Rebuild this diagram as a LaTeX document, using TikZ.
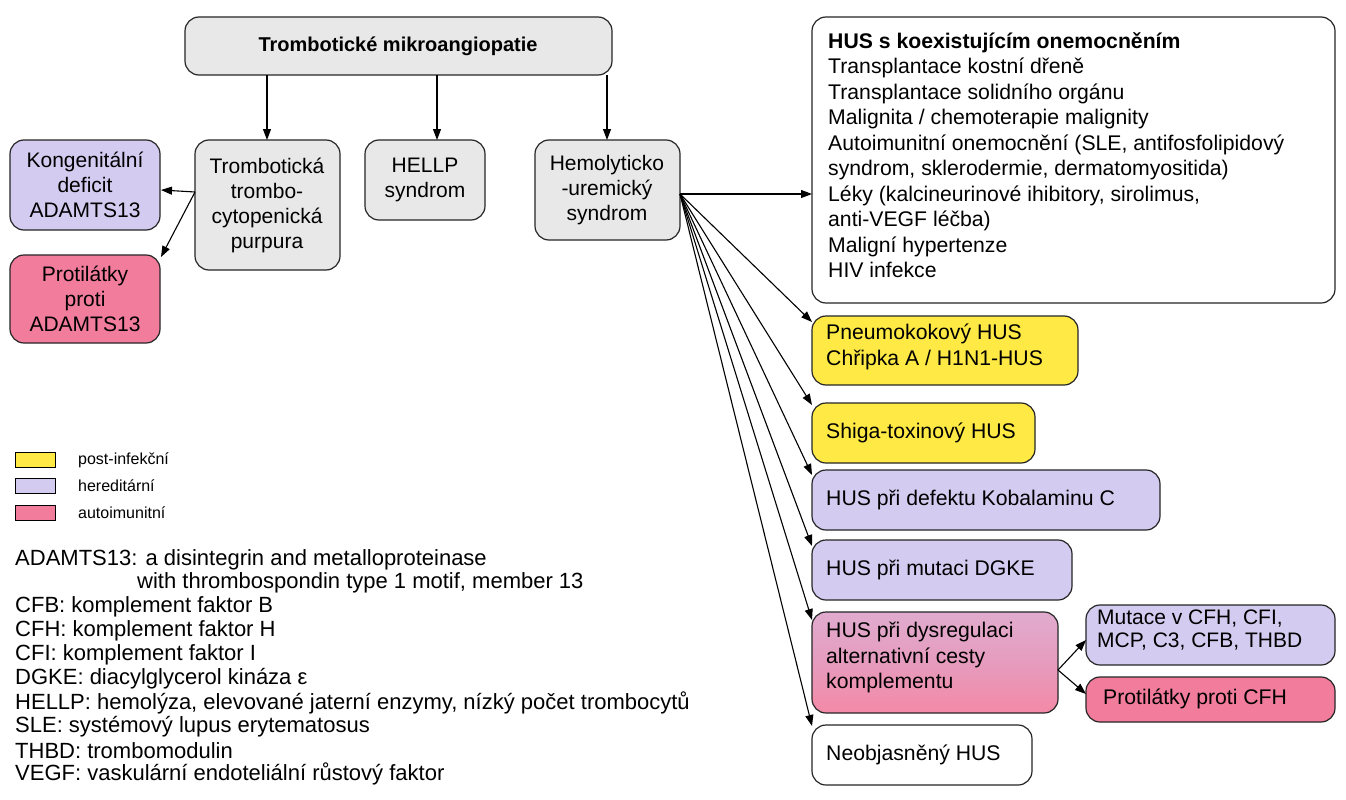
\documentclass[tikz,border=0pt]{standalone}
\usepackage{fontspec}
\setmainfont{Liberation Sans}
\usetikzlibrary{arrows.meta}
\definecolor{gr}{HTML}{E8E8E8}
\definecolor{lav}{HTML}{D4CBF0}
\definecolor{pk}{HTML}{F27C9C}
\definecolor{yl}{HTML}{FFEA45}
\begin{document}
\begin{tikzpicture}[x=1pt,y=-1pt,
 bx/.style={draw=black!85,line width=1.2pt,rounded corners=14pt},
 t/.style={font=\fontsize{21}{25}\selectfont,align=center},
 tl/.style={font=\fontsize{21.2}{25.5}\selectfont,align=left,anchor=north west,inner sep=0pt},
 ar/.style={-{Triangle[length=11pt,width=8pt]},line width=1.1pt},
 sm/.style={font=\fontsize{22}{23.5}\selectfont,anchor=west,inner sep=0pt},
 lg/.style={font=\fontsize{16}{20}\selectfont,anchor=west,inner sep=0pt}]
\useasboundingbox (0,0) rectangle (1346,800);
\fill[white] (0,0) rectangle (1346,800);
% boxes
\draw[bx,fill=gr] (185,17) rectangle (612,75);
\node[t,font=\bfseries\fontsize{20}{25}\selectfont] (top) at (398,46) {Trombotické mikroangiopatie};
\draw[bx,fill=lav] (10,140) rectangle (160,230);
\node[t] (kon) at (85,185) {Kongenitální\\deficit\\ADAMTS13};
\draw[bx,fill=pk] (10,255) rectangle (160,343);
\node[t] (pro) at (85,299) {Protilátky\\proti\\ADAMTS13};
\draw[bx,fill=gr] (195,140) rectangle (340,270);
\node[t] (ttp) at (267,205) {Trombotická\\trombo-\\cytopenická\\purpura};
\draw[bx,fill=gr] (365,140) rectangle (485,220);
\node[t] (hel) at (425,180) {HELLP\\syndrom};
\draw[bx,fill=gr] (535,140) rectangle (680,240);
\node[t] (hus) at (607,190) {Hemolyticko\\-uremický\\syndrom};
\draw[bx] (812,17) rectangle (1335,303);
\node[tl] (coe) at (828,32) {\textbf{HUS s koexistujícím onemocněním}\\Transplantace kostní dřeně\\Transplantace solidního orgánu\\Malignita / chemoterapie malignity\\Autoimunitní onemocnění (SLE, antifosfolipidový\\syndrom, sklerodermie, dermatomyositida)\\Léky (kalcineurinové ihibitory, sirolimus,\\anti-VEGF léčba)\\Maligní hypertenze\\HIV infekce};
\draw[bx,fill=yl] (812,316) rectangle (1078,385);
\node[tl] (pn) at (826,324) {Pneumokokový HUS\\Chřipka A / H1N1-HUS};
\draw[bx,fill=yl] (812,403) rectangle (1035,463);
\node[tl,anchor=west] (sh) at (826,433) {Shiga-toxinový HUS};
\draw[bx,fill=lav] (812,470) rectangle (1160,530);
\node[tl,anchor=west] (kob) at (826,500) {HUS při defektu Kobalaminu C};
\draw[bx,fill=lav] (812,540) rectangle (1072,600);
\node[tl,anchor=west] (dg) at (826,570) {HUS při mutaci DGKE};
\shade[top color=lav!60!pk,bottom color=pk!90,middle color=pk!60!lav,rounded corners=14pt] (812,612) rectangle (1058,713);
\draw[bx] (812,612) rectangle (1058,713);
\node[tl] (dys) at (826,622) {HUS při dysregulaci\\alternativní cesty\\komplementu};
\draw[bx,fill=lav] (1086,605) rectangle (1335,665);
\node[tl,font=\fontsize{21}{23}\selectfont] (mut) at (1097,610) {Mutace v CFH, CFI,\\MCP, C3, CFB, THBD};
\draw[bx,fill=pk] (1086,677) rectangle (1335,722);
\node[tl,anchor=west] (pcfh) at (1103,699) {Protilátky proti CFH};
\draw[bx] (812,725) rectangle (1032,785);
\node[tl,anchor=west] (neo) at (826,755) {Neobjasněný HUS};
% connectors
\coordinate (a1) at (267,75);\coordinate (a2) at (437,75);\coordinate (a3) at (607,75);
\draw[ar] (a1) -- (267,140);
\draw[ar] (a2) -- (437,140);
\draw[ar] (a3) -- (607,140);
\coordinate (tl) at (195,192);
\draw[ar] (tl) -- (161,190);
\draw[ar] (tl) -- (161,257);
\coordinate (hr) at (680,194);
\draw[ar] (hr) -- (812,194);
\foreach \yy in {322,405,475,546,620,726} \draw[ar] (hr) -- (812,\yy);
\coordinate (dr) at (1058,670);
\draw[ar] (dr) -- (1086,640);
\draw[ar] (dr) -- (1086,694);
% legend
\draw[fill=yl,line width=0.8pt] (15,452) rectangle (55,467);
\draw[fill=lav,line width=0.8pt] (15,478) rectangle (55,493);
\draw[fill=pk,line width=0.8pt] (15,505) rectangle (55,520);
\node[lg] (l1) at (78,460) {post-infekční};
\node[lg] (l2) at (78,486) {hereditární};
\node[lg] (l3) at (78,513) {autoimunitní};
\node[sm] (ab0) at (15,560) {ADAMTS13: a disintegrin and metalloproteinase};
\node[sm] (ab1) at (137,583) {with thrombospondin type 1 motif, member 13};
\node[sm] (ab2) at (15,607) {CFB: komplement faktor B};
\node[sm] (ab3) at (15,631) {CFH: komplement faktor H};
\node[sm] (ab4) at (15,655) {CFI: komplement faktor I};
\node[sm] (ab5) at (15,679) {DGKE: diacylglycerol kináza ε};
\node[sm] (ab6) at (15,703) {HELLP: hemolýza, elevované jaterní enzymy, nízký počet trombocytů};
\node[sm] (ab7) at (15,727) {SLE: systémový lupus erytematosus};
\node[sm] (ab8) at (15,751) {THBD: trombomodulin};
\node[sm] (ab9) at (15,774) {VEGF: vaskulární endoteliální růstový faktor};
\end{tikzpicture}
\end{document}
